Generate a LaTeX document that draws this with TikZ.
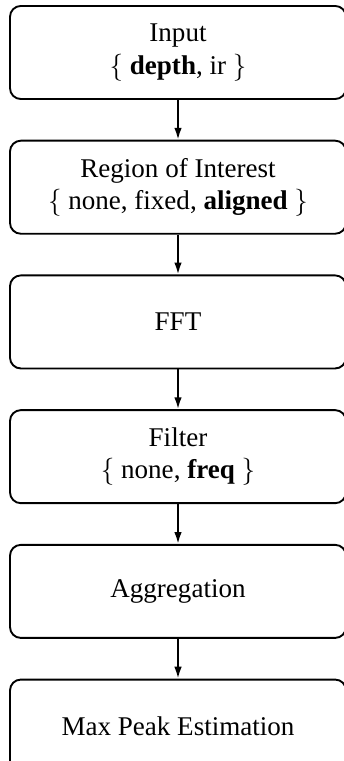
\documentclass[tikz,border=0pt]{standalone}
\usepackage{fontspec}
\setmainfont{Liberation Serif}
\usetikzlibrary{positioning,arrows.meta}

\begin{document}
\begin{tikzpicture}[>={Latex[length=4.4pt,width=2.8pt]}, node distance=14.7pt,
    stage/.style={draw, line width=0.7pt, rounded corners=4pt, align=center,
        minimum width=124.2pt, minimum height=34.4pt, inner sep=2pt}]
    % picture frame, cut on the right and at the bottom
    \clip (-65.8pt, 19.4pt) rectangle (61.3pt, -261.9pt);

    % the processing stages
    \node[stage] (input) at (0,0) {Input\\$\{$ \textbf{depth}, ir $\}$};
    \node[stage, below=of input] (roi) {Region of Interest\\$\{$ none, fixed, \textbf{aligned} $\}$};
    \node[stage, below=of roi] (fft) {FFT};
    \node[stage, below=of fft] (filter) {Filter\\$\{$ none, \textbf{freq} $\}$};
    \node[stage, below=of filter] (aggr) {Aggregation};
    \node[stage, below=of aggr] (peak) {Max Peak Estimation};

    % arrows between the stages
    \foreach \a/\b in {input/roi, roi/fft, fft/filter, filter/aggr, aggr/peak}
        \draw[->, line width=0.7pt] (\a) -- (\b);
\end{tikzpicture}
\end{document}
